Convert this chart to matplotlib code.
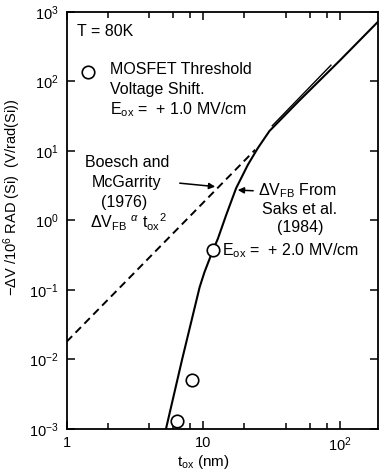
import matplotlib
matplotlib.use("Agg")
import matplotlib.pyplot as plt
from matplotlib.ticker import LogLocator, NullFormatter, NullLocator, FixedLocator, FixedFormatter

plt.rcParams['font.family'] = ['Liberation Sans', 'DejaVu Sans']
plt.rcParams['mathtext.fontset'] = 'custom'
plt.rcParams['mathtext.rm'] = 'Liberation Sans'
plt.rcParams['mathtext.it'] = 'Liberation Sans:italic'
plt.rcParams['mathtext.bf'] = 'Liberation Sans:bold'

# Saks et al. (1984) flat-band shift curve
saks_tox = [5.3, 7.0, 9.4, 10.2, 11.64, 12.8, 14.7, 17.4, 21.2, 25.1, 30.5, 50, 100, 190]
saks_dv = [0.00095, 0.01, 0.109, 0.18, 0.352, 0.548, 1.19, 2.91, 6.3, 11.0, 19.3, 52, 200, 720]

# Boesch and McGarrity (1976), dV ~ tox^2
boesch_tox = [1, 24]
boesch_dv = [0.018, 10.4]

# short second trace next to the curve at large tox
seg_tox = [32, 86]
seg_dv = [23, 171]

# MOSFET threshold voltage shift, Eox = +1.0 MV/cm
mos_tox = [6.4, 8.3, 11.75]
mos_dv = [0.00132, 0.0051, 0.37]

xticks = [1, 10, 100]
xtick_labels = ["1", "10", r"$\mathdefault{10^2}$"]

fig = plt.figure(figsize=(3.81, 4.75), dpi=100)
ax = fig.add_axes([0.175, 0.097, 0.817, 0.878])

ax.plot(saks_tox, saks_dv, color='black', lw=1.5)
ax.plot(boesch_tox, boesch_dv, color='black', lw=1.4, ls=(0, (4, 2.5)))
ax.plot(seg_tox, seg_dv, color='black', lw=1.0)
ax.plot(mos_tox, mos_dv, 'o', ms=9, mfc='white', mec='black', mew=1.2)

ax.set_xscale('log')
ax.set_yscale('log')
ax.set_xlim(1, 190)
ax.set_ylim(1e-3, 1e3)

# minor ticks only at the even multiples, like the original
minor_x = [m * 10**e for e in (0, 1, 2) for m in (2, 4, 6, 8) if m * 10**e <= 190]
ax.xaxis.set_major_locator(FixedLocator(xticks))
ax.xaxis.set_major_formatter(FixedFormatter(xtick_labels))
ax.xaxis.set_minor_locator(FixedLocator(minor_x))
ax.xaxis.set_minor_formatter(NullFormatter())
ax.yaxis.set_major_locator(LogLocator(base=10, numticks=10))
ax.yaxis.set_minor_locator(NullLocator())

ax.tick_params(which='both', direction='in', top=True, right=True, labelsize=10.5, width=1.1)
ax.tick_params(which='major', length=6, pad=6)
ax.tick_params(which='minor', length=4)
ax.tick_params(axis='x', which='major', pad=5)
for s in ax.spines.values():
    s.set_linewidth(1.3)

ax.set_xlabel(r"t$_{\rm ox}$ (nm)", fontsize=11)
ax.xaxis.set_label_coords(0.438, -0.058)
ax.set_ylabel(r"$-$ΔV /10$^6$ RAD (Si)  (V/rad(Si))", fontsize=10.5)
ax.yaxis.set_label_coords(-0.14, 0.554)

fs = 11.5
tr = ax.transAxes

def px(x, y):
    return ((x - 66.7) / 311.3, (429 - y) / 417)

ax.text(*px(77, 32), "T = 80K", transform=tr, fontsize=fs, va='center')
ax.plot(*px(88, 72), 'o', ms=9, mfc='white', mec='black', mew=1.2, transform=tr)
ax.text(*px(110, 70), "MOSFET Threshold", transform=tr, fontsize=fs, va='center')
ax.text(*px(110, 90), "Voltage Shift.", transform=tr, fontsize=fs, va='center')
ax.text(*px(110, 110), r"E$_{\rm ox}$ =  + 1.0 MV/cm", transform=tr, fontsize=fs, va='center')

ax.text(*px(127, 163), "Boesch and", transform=tr, fontsize=fs, ha='center', va='center')
ax.text(*px(127, 183), "McGarrity", transform=tr, fontsize=fs, ha='center', va='center')
ax.text(*px(124, 203), "(1976)", transform=tr, fontsize=fs, ha='center', va='center')
ax.text(*px(128, 222), r"ΔV$_{\rm FB}$ $^{\alpha}$ t$_{\rm ox}$$^2$", transform=tr, fontsize=fs,
        ha='center', va='center')
ax.annotate("", xy=px(218, 187), xytext=px(177, 183), xycoords=tr, textcoords=tr,
            arrowprops=dict(arrowstyle='-|>', color='black', lw=1.1, mutation_scale=9))

ax.text(*px(258, 191), r"ΔV$_{\rm FB}$ From", transform=tr, fontsize=fs, va='center')
ax.text(*px(300, 210), "Saks et al.", transform=tr, fontsize=fs, ha='center', va='center')
ax.text(*px(300, 228), "(1984)", transform=tr, fontsize=fs, ha='center', va='center')
ax.annotate("", xy=px(235, 190), xytext=px(256, 191), xycoords=tr, textcoords=tr,
            arrowprops=dict(arrowstyle='-|>', color='black', lw=1.1, mutation_scale=9))
ax.text(*px(222, 251), r"E$_{\rm ox}$ =  + 2.0 MV/cm", transform=tr, fontsize=fs, va='center')

fig.savefig("out.png", dpi=100)
